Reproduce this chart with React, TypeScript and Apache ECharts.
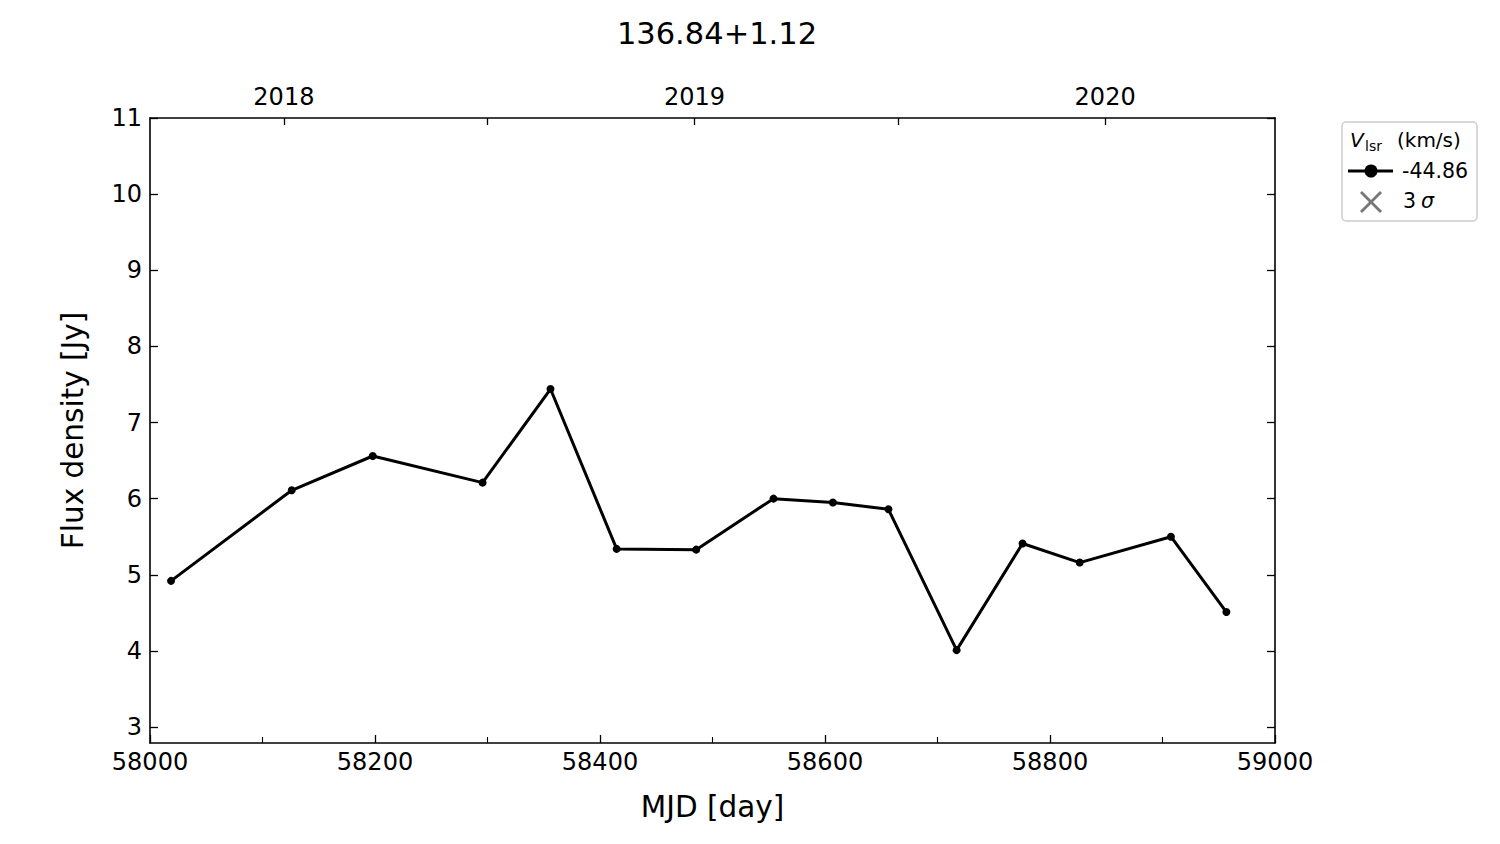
import React, { useEffect, useRef } from "react";
import * as echarts from "echarts";

const titleText = "136.84+1.12";
const mjd = [58018.7, 58126, 58198, 58295.6, 58356, 58414.8, 58485.5, 58554.2, 58607, 58656.4, 58717, 58775.6, 58826.4, 58907.5, 58956.8];
const flux = [4.92, 6.11, 6.56, 6.21, 7.44, 5.34, 5.33, 6.0, 5.95, 5.86, 4.01, 5.41, 5.16, 5.5, 4.51];
const yTicks = [3, 4, 5, 6, 7, 8, 9, 10, 11];
const yearTickMjd = [58119, 58300, 58484, 58665, 58849];
const yearLabelMjd = [58119, 58484, 58849];
const yearLabels = ["2018", "2019", "2020"];
const seriesName = "-44.86";

const FONT = "DejaVu Sans";

export default function App() {
  const ref = useRef<HTMLDivElement>(null);
  useEffect(() => {
    document.body.style.margin = "0";
    const chart = echarts.init(ref.current!, null, { renderer: "svg" });
    const data = mjd.map((m, i) => [m, flux[i]]);
    const axisLineStyle = { color: "#000", width: 1.6 };
    chart.setOption({
      animation: false,
      backgroundColor: "#fff",
      title: {
        text: titleText,
        left: 712,
        top: 13,
        textAlign: "center",
        textStyle: { fontFamily: FONT, fontSize: 30.5, fontWeight: "normal", color: "#000" },
      },
      grid: { left: 150, right: 225, top: 118, bottom: 101, containLabel: false },
      xAxis: [
        {
          type: "value",
          position: "bottom",
          min: 58000,
          max: 59000,
          interval: 200,
          name: "MJD [day]",
          nameLocation: "middle",
          nameGap: 49,
          nameTextStyle: { fontFamily: FONT, fontSize: 29.5, color: "#000" },
          axisLine: { show: true, onZero: false, lineStyle: axisLineStyle },
          axisTick: { show: true, inside: true, length: 8, lineStyle: { color: "#000", width: 1.3 } },
          minorTick: { show: true, splitNumber: 2, length: 6, lineStyle: { color: "#000", width: 1.1 } },
          axisLabel: { fontFamily: FONT, fontSize: 24, color: "#000", margin: 7, formatter: (v: number) => String(v) },
          splitLine: { show: false },
        },
        {
          type: "value",
          position: "top",
          min: 58000,
          max: 59000,
          axisLine: { show: true, onZero: false, lineStyle: axisLineStyle },
          axisTick: { show: true, inside: true, length: 7, customValues: yearTickMjd, lineStyle: { color: "#000", width: 1.3 } },
          axisLabel: {
            show: true,
            customValues: yearLabelMjd,
            fontFamily: FONT,
            fontSize: 24,
            color: "#000",
            margin: 9,
            formatter: (v: number) => {
              const idx = yearLabelMjd.indexOf(v);
              return idx >= 0 ? yearLabels[idx] : "";
            },
          },
          splitLine: { show: false },
        },
      ],
      yAxis: [
        {
          type: "value",
          position: "left",
          min: 2.79,
          max: 11,
          name: "Flux density [Jy]",
          nameLocation: "middle",
          nameGap: 62,
          nameTextStyle: { fontFamily: FONT, fontSize: 29.5, color: "#000" },
          axisLine: { show: true, onZero: false, lineStyle: axisLineStyle },
          axisTick: { show: true, inside: true, length: 8, customValues: yTicks, lineStyle: { color: "#000", width: 1.3 } },
          axisLabel: { customValues: yTicks, fontFamily: FONT, fontSize: 24, color: "#000", margin: 8 },
          splitLine: { show: false },
        },
        {
          type: "value",
          position: "right",
          min: 2.79,
          max: 11,
          axisLine: { show: true, onZero: false, lineStyle: axisLineStyle },
          axisTick: { show: true, inside: true, length: 8, customValues: yTicks, lineStyle: { color: "#000", width: 1.3 } },
          axisLabel: { show: false },
          splitLine: { show: false },
        },
      ],
      series: [
        {
          name: seriesName,
          type: "line",
          xAxisIndex: 0,
          yAxisIndex: 0,
          data,
          symbol: "circle",
          symbolSize: 8,
          showAllSymbol: true,
          lineStyle: { color: "#000", width: 3 },
          itemStyle: { color: "#000" },
        },
      ],
      graphic: [
        {
          type: "rect",
          shape: { x: 1342, y: 122, width: 135, height: 99, r: 4 },
          style: { fill: "#fff", stroke: "#cccccc", lineWidth: 1.5 },
        },
        {
          type: "text",
          x: 1350,
          y: 140,
          style: { text: "V", fontFamily: FONT, fontSize: 20, fontStyle: "italic", fill: "#000", textVerticalAlign: "middle" },
        },
        {
          type: "text",
          x: 1365,
          y: 146,
          style: { text: "lsr", fontFamily: FONT, fontSize: 14, fill: "#000", textVerticalAlign: "middle" },
        },
        {
          type: "text",
          x: 1397,
          y: 140,
          style: { text: "(km/s)", fontFamily: FONT, fontSize: 20, fill: "#000", textVerticalAlign: "middle" },
        },
        {
          type: "line",
          shape: { x1: 1348, y1: 171, x2: 1393, y2: 171 },
          style: { stroke: "#000", lineWidth: 3 },
        },
        {
          type: "circle",
          shape: { cx: 1371, cy: 171, r: 6.5 },
          style: { fill: "#000" },
        },
        {
          type: "text",
          x: 1402,
          y: 171,
          style: { text: seriesName, fontFamily: FONT, fontSize: 20.5, fill: "#000", textVerticalAlign: "middle" },
        },
        {
          type: "line",
          shape: { x1: 1361, y1: 192, x2: 1381, y2: 212 },
          style: { stroke: "#777", lineWidth: 2.8 },
        },
        {
          type: "line",
          shape: { x1: 1381, y1: 192, x2: 1361, y2: 212 },
          style: { stroke: "#777", lineWidth: 2.8 },
        },
        {
          type: "text",
          x: 1403,
          y: 201,
          style: { text: "3", fontFamily: FONT, fontSize: 20.5, fill: "#000", textVerticalAlign: "middle" },
        },
        {
          type: "text",
          x: 1421,
          y: 201,
          style: { text: "σ", fontFamily: FONT, fontSize: 20.5, fontStyle: "italic", fill: "#000", textVerticalAlign: "middle" },
        },
      ],
    });
    return () => chart.dispose();
  }, []);
  return <div ref={ref} style={{ position: "fixed", left: 0, top: 0, width: 1500, height: 844 }} />;
}
